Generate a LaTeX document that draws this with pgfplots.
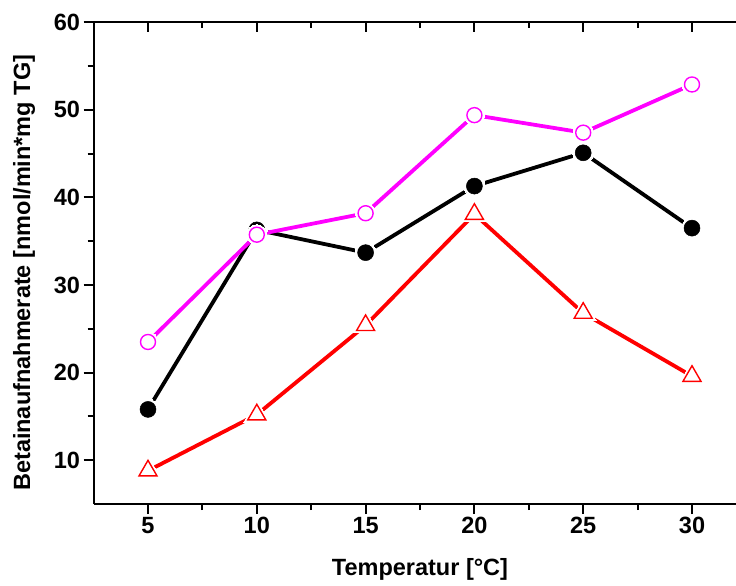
\documentclass[border=0pt]{standalone}
\usepackage{fontspec}
\setmainfont{Liberation Sans}
\usepackage{pgfplots}
\usepackage{pgfplotstable}
\pgfplotsset{compat=1.18}
\definecolor{mag}{RGB}{255,0,255}
\definecolor{rd}{RGB}{255,0,0}
\pgfplotstableread{
x y
5 15.8
10 36.3
15 33.7
20 41.3
25 45.1
30 36.5
}\blackdata
\pgfplotstableread{
x y
5 8.8
10 15.2
15 25.4
20 38.1
25 26.8
30 19.6
}\reddata
\pgfplotstableread{
x y
5 23.5
10 35.75
15 38.2
20 49.4
25 47.4
30 52.9
}\magdata
\begin{document}
\begin{tikzpicture}
\pgfplotsset{
  common/.style={
    scale only axis, width=652.8pt, height=481.7pt,
    xmin=2.5, xmax=32.5, ymin=5, ymax=60,
    xtick={5,10,...,30}, ytick={10,20,...,60},
    minor x tick num=1, minor y tick num=1,
    major tick length=10pt, minor tick length=6pt,
    axis line style={-, line width=2pt},
    every tick/.style={line width=2pt, black},
    /pgf/number format/assume math mode=true,
    tick label style={font=\fontsize{23.5}{27}\selectfont\bfseries},
    label style={font=\fontsize{23.5}{28}\selectfont\bfseries},
  }
}
\begin{axis}[common,
  axis x line*=top, axis y line*=right, tick align=inside,
  xticklabels={}, yticklabels={}]
\end{axis}
\begin{axis}[common,
  axis x line*=bottom, axis y line*=left, tick align=outside,
  xlabel={Temperatur [°C]},
  ylabel={Betainaufnahmerate [nmol/min*mg TG]},
  xlabel style={at={(axis description cs:0.5,-0.1474)}, anchor=base},
  ylabel style={at={(axis description cs:-0.1066,0.48)}, anchor=center},
  clip=false]
\coordinate (o) at (rel axis cs:0,0);
% black series
\addplot[black, line width=3.8pt, no marks] table[x=x,y=y] {\blackdata};
\addplot[white, only marks, mark=*, mark size=10.5pt, mark options={fill=white, draw=white, line width=0pt}] table[x=x,y=y] {\blackdata};
\addplot[black, only marks, mark=*, mark size=8pt, mark options={fill=black, draw=black, line width=0.5pt}] table[x=x,y=y] {\blackdata};
% red series
\addplot[rd, line width=3.8pt, no marks] table[x=x,y=y] {\reddata};
\addplot[white, only marks, mark=triangle*, mark size=15pt, mark options={fill=white, draw=white, line width=0pt}] table[x=x,y=y] {\reddata};
\addplot[rd, only marks, mark=triangle*, mark size=10.4pt, mark options={fill=white, draw=rd, line width=1.4pt}] table[x=x,y=y] {\reddata};
% magenta series
\addplot[mag, line width=3.8pt, no marks] table[x=x,y=y] {\magdata};
\addplot[white, only marks, mark=*, mark size=10pt, mark options={fill=white, draw=white, line width=0pt}] table[x=x,y=y] {\magdata};
\addplot[mag, only marks, mark=*, mark size=7.5pt, mark options={fill=white, draw=mag, line width=1.4pt}] table[x=x,y=y] {\magdata};
\end{axis}
\pgfresetboundingbox
\path[use as bounding box] ([shift={(-93.6pt,-82pt)}]o) rectangle ([shift={(642.4pt,504pt)}]o);
\end{tikzpicture}
\end{document}
